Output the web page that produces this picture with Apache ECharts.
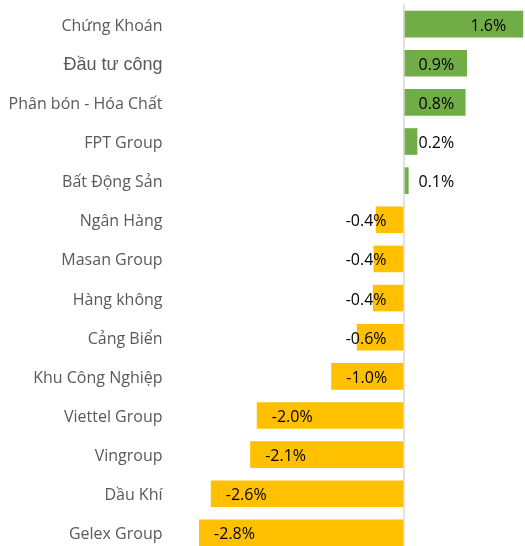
<!DOCTYPE html>
<html>
<head>
<meta charset="utf-8">
<script src="https://cdn.jsdelivr.net/npm/echarts@6/dist/echarts.min.js"></script>
<style>
  html, body { margin: 0; padding: 0; background: #fff; }
  #chart { width: 525px; height: 546px; }
</style>
</head>
<body>
<div id="chart"></div>
<script>
// nganh / nhom co phieu, tu tren xuong
var categories = ['Chứng Khoán', 'Đầu tư công', 'Phân bón - Hóa Chất', 'FPT Group', 'Bất Động Sản',
  'Ngân Hàng', 'Masan Group', 'Hàng không', 'Cảng Biển', 'Khu Công Nghiệp',
  'Viettel Group', 'Vingroup', 'Dầu Khí', 'Gelex Group']
// % thay doi
var values = [1.64, 0.87, 0.85, 0.19, 0.07, -0.38, -0.41, -0.42, -0.64, -0.99, -2.01, -2.1, -2.64, -2.8]

var myChart = echarts.init(document.getElementById('chart'))
var font = 'Open Sans'

var data = values.map(function (v, i) {
  var pos, dist
  if (v >= 1.2) { pos = 'insideRight'; dist = 17 }
  else if (v >= 0) { pos = 'insideLeft'; dist = 15 }
  else if (v > -0.9) { pos = 'insideRight'; dist = 17 }
  else { pos = 'insideLeft'; dist = 15 }
  return {
    value: v,
    itemStyle: { color: v >= 0 ? '#70AD47' : '#FFC000' },
    label: { position: pos, distance: dist }
  }
})

var option = {
  animation: false,
  grid: { left: 184.5, width: 365, top: 4.5, height: 548, outerBoundsMode: 'none', containLabel: false },
  xAxis: {
    type: 'value',
    min: -3,
    max: 2,
    show: false
  },
  yAxis: {
    type: 'category',
    data: categories,
    inverse: true,
    axisLine: { show: false },
    axisTick: { show: false },
    axisLabel: {
      margin: 22,
      color: '#595959',
      fontFamily: font,
      fontSize: 16,
      padding: [4, 0, 0, 0],
      formatter: function (v) {
        return v === 'Đầu tư công' ? '{b|' + v + '}' : v
      },
      rich: {
        b: { fontFamily: 'Liberation Sans', fontSize: 18, color: '#595959' }
      }
    }
  },
  series: [{
    type: 'bar',
    data: data,
    barWidth: '68%',
    label: {
      show: true,
      color: '#000',
      fontFamily: font,
      fontSize: 16,
      offset: [0, 2],
      formatter: function (p) { return p.value.toFixed(1) + '%' }
    },
    markLine: {
      silent: true,
      symbol: 'none',
      label: { show: false },
      lineStyle: { color: '#d9d9d9', width: 1.5, type: 'solid' },
      data: [{ xAxis: 0 }]
    }
  }]
}

myChart.setOption(option)
</script>
</body>
</html>
